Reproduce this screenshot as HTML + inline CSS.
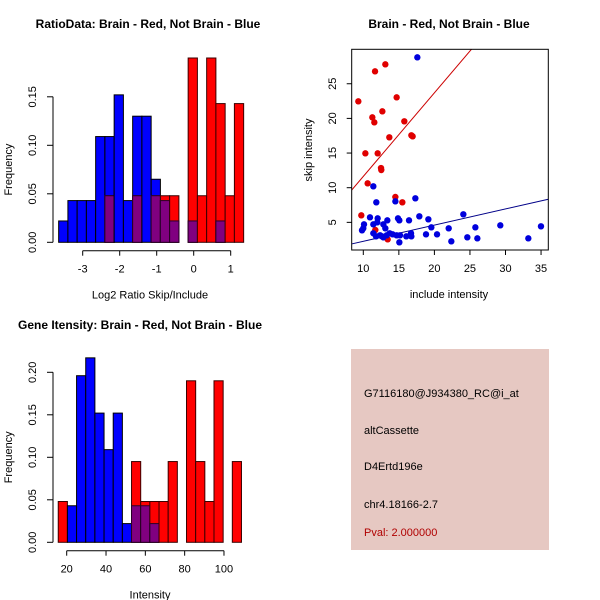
<!DOCTYPE html>
<html><head><meta charset="utf-8"><style>
html,body{margin:0;padding:0;background:#fff;}
svg{display:block;font-family:"Liberation Sans",sans-serif;}
</style></head><body>
<svg id="root" width="600" height="600" xmlns="http://www.w3.org/2000/svg">
<rect x="0" y="0" width="600" height="600" fill="#fff"/>
<text x="148" y="28" text-anchor="middle" font-size="12" font-weight="bold">RatioData: Brain - Red, Not Brain - Blue</text>
<text x="449" y="28" text-anchor="middle" font-size="12" font-weight="bold">Brain - Red, Not Brain - Blue</text>
<text x="140" y="329" text-anchor="middle" font-size="12" font-weight="bold">Gene Itensity: Brain - Red, Not Brain - Blue</text>
<g id="g1"></g>
<g id="g2"></g>
<g id="g3"></g>
<g>
<rect x="351" y="349" width="198" height="201" fill="#e6c8c2"/>
<text x="364" y="397" font-size="11">G7116180@J934380_RC@i_at</text>
<text x="364" y="434" font-size="11">altCassette</text>
<text x="364" y="470" font-size="11">D4Ertd196e</text>
<text x="364" y="508" font-size="11">chr4.18166-2.7</text>
<text x="364" y="536" font-size="11" fill="#b00000">Pval: 2.000000</text>
</g>
</svg>
<script>
// Ratio histogram data
const ratioStart = -3.65, ratioBinW = 0.25;
const ratioBlue = [0.022,0.043,0.043,0.043,0.109,0.109,0.152,0.043,0.130,0.130,0.065,0.043,0.022,0,0.022,0,0,0.022,0,0];
const ratioRed  = [0,0,0,0,0,0.048,0,0,0.048,0,0.048,0.048,0.048,0,0.19,0.048,0.19,0.143,0.048,0.143];
const ratioXTicks = [-3,-2,-1,0,1];
const ratioYTicks = ["0.00","0.05","0.10","0.15"];
// Intensity histogram data
const intStart = 15.7, intBinW = 4.66;
const intBlue = [0,0.043,0.196,0.217,0.152,0.109,0.152,0.022,0.043,0.043,0.022,0,0,0,0,0,0,0,0,0];
const intRed  = [0.048,0,0,0,0,0,0,0,0.095,0.048,0.048,0.048,0.095,0,0.19,0.095,0.048,0.19,0,0.095];
const intXTicks = [20,40,60,80,100];
const intYTicks = ["0.00","0.05","0.10","0.15","0.20"];
// Scatter data
const redX = [9.30,14.69,11.65,13.10,11.27,11.55,12.68,15.77,10.29,12.02,13.66,12.49,12.53,16.76,16.94,10.61,14.51,15.49,9.72,11.69,13.43];
const redY = [22.46,23.04,26.79,27.80,20.15,19.43,21.02,19.58,14.96,14.96,17.27,12.84,12.55,17.56,17.41,10.63,8.66,7.89,6.01,3.90,2.55];
const blueX = [17.60,11.41,11.83,17.32,14.51,10.94,12.02,13.38,14.88,15.07,16.43,17.88,19.15,24.07,25.76,29.27,34.99,9.82,10.10,10.00,11.41,12.82,13.10,13.71,14.69,15.16,16.05,16.71,16.76,18.82,20.37,22.01,19.57,11.41,11.79,12.35,12.63,13.29,14.13,15.07,22.38,24.63,26.04,33.21,11.97,12.82];
const blueY = [28.81,10.20,7.89,8.47,8.03,5.72,5.58,5.29,5.58,5.29,5.29,5.87,5.44,6.16,4.28,4.57,4.43,3.85,4.71,4.14,4.71,4.71,4.14,3.42,3.13,3.13,2.98,3.42,2.98,3.27,3.27,4.14,4.28,3.42,2.98,3.13,2.98,3.13,3.27,2.12,2.26,2.84,2.69,2.69,5.00,2.84];
const redFit = [-0.43, 1.206];
const blueFit = [-0.07, 0.2334];
const scXTicks = [10,15,20,25,30,35];
const scYTicks = [5,10,15,20,25];

const NS = "http://www.w3.org/2000/svg";
function mk(parent, tag, attrs, text){
  const e = document.createElementNS(NS, tag);
  for (const k in attrs) e.setAttribute(k, attrs[k]);
  if (text !== undefined) e.textContent = text;
  parent.appendChild(e); return e;
}

function hist(g, start, w, blue, red, xs, ys, yTicks, xTicks, xlab, yAxisX, xAxisY, xTickLo, xTickHi, yTickTop){
  const n = blue.length;
  for (let i = 0; i < n; i++) {
    const x0 = xs(start + i*w), x1 = xs(start + (i+1)*w);
    const b = blue[i], r = red[i], m = Math.min(b, r);
    if (b > 0) {
      const e = mk(g, "rect", {x:x0, y:ys(b), width:x1-x0, height:ys(0)-ys(b), fill:"#0000ff", stroke:"#000", "stroke-width":1});
      
      
    }
    if (r > 0) {
      const e = mk(g, "rect", {x:x0, y:ys(r), width:x1-x0, height:ys(0)-ys(r), fill:"#ff0000", stroke:"#3a0000", "stroke-width":1});
      
      
    }
    if (m > 0) {
      const e = mk(g, "rect", {x:x0, y:ys(m), width:x1-x0, height:ys(0)-ys(m), fill:"#800080", stroke:"#2a002a", "stroke-width":1});
      
      
    }
  }
  // y axis
  const ya = mk(g, "line", {x1:yAxisX, x2:yAxisX, y1:ys(0), y2:ys(yTickTop), stroke:"#000"});
  
  
  yTicks.forEach(t => {
    const y = ys(parseFloat(t));
    mk(g, "line", {x1:yAxisX-6, x2:yAxisX, y1:y, y2:y, stroke:"#000"});
    const tx = mk(g, "text", {x:0, y:0, "font-size":11, "text-anchor":"middle", transform:`translate(36,${y}) rotate(-90)`}, t);
    
    
  });
  const xa = mk(g, "line", {x1:xs(xTickLo), x2:xs(xTickHi), y1:xAxisY, y2:xAxisY, stroke:"#000"});
  
  
  xTicks.forEach(t => {
    const x = xs(t);
    mk(g, "line", {x1:x, x2:x, y1:xAxisY, y2:xAxisY+5, stroke:"#000"});
    const tx = mk(g, "text", {x:x, y:xAxisY+22, "font-size":11, "text-anchor":"middle"}, String(t));
    
    
  });
  const xl = mk(g, "text", {x:(xs(xTickLo)+xs(xTickHi))/2 + 0, y:xAxisY+48, "font-size":11, "text-anchor":"middle"}, xlab);
  
  
  const yl = mk(g, "text", {x:0, y:0, "font-size":11, "text-anchor":"middle", transform:`translate(12,${(ys(0)+ys(yTickTop))/2}) rotate(-90)`}, "Frequency");
  
  
}

// Panel 1
{
  const g = document.getElementById("g1");
  const xs = v => 82.7 + (v + 3) * 37;
  const ys = v => 242.3 - v * 970;
  hist(g, ratioStart, ratioBinW, ratioBlue, ratioRed, xs, ys, ratioYTicks, ratioXTicks, "Log2 Ratio Skip/Include", 53, 250.7, -3, 1, 0.15);
  g.lastChild.previousSibling.setAttribute("x", 150);
}
// Panel 3
{
  const g = document.getElementById("g3");
  const xs = v => 66.7 + (v - 20) * 1.966;
  const ys = v => 542.3 - v * 850;
  hist(g, intStart, intBinW, intBlue, intRed, xs, ys, intYTicks, intXTicks, "Intensity", 53, 550.7, 20, 100, 0.20);
  g.lastChild.previousSibling.setAttribute("x", 150);
}
// Panel 2 scatter
{
  const g = document.getElementById("g2");
  const L = 351.7, R = 548.3, T = 49.3, B = 250;
  const xs = v => 292.2 + v * 7.11;
  const ys = v => 257 - v * 6.93;
  const clip = mk(g, "clipPath", {id:"scclip"});
  mk(clip, "rect", {x:L, y:T, width:R-L, height:B-T});
  const xMin = (L - 292.2) / 7.11, xMax = (R - 292.2) / 7.11;
  const rl = mk(g, "line", {x1:xs(xMin), y1:ys(redFit[0]+redFit[1]*xMin), x2:xs(xMax), y2:ys(redFit[0]+redFit[1]*xMax), stroke:"#cc0000", "clip-path":"url(#scclip)"});
  
  
  const bl = mk(g, "line", {x1:xs(xMin), y1:ys(blueFit[0]+blueFit[1]*xMin), x2:xs(xMax), y2:ys(blueFit[0]+blueFit[1]*xMax), stroke:"#000088", "clip-path":"url(#scclip)"});
  
  
  redX.forEach((x, i) => {
    const c = mk(g, "circle", {cx:xs(x), cy:ys(redY[i]), r:3.2, fill:"#e00000"});
    
    
  });
  blueX.forEach((x, i) => {
    const c = mk(g, "circle", {cx:xs(x), cy:ys(blueY[i]), r:3.2, fill:"#0000dd"});
    
    
  });
  const box = mk(g, "rect", {x:L, y:T, width:R-L, height:B-T, fill:"none", stroke:"#000"});
  
  
  scXTicks.forEach(t => {
    const x = xs(t);
    mk(g, "line", {x1:x, x2:x, y1:B, y2:B+5, stroke:"#000"});
    const tx = mk(g, "text", {x:x, y:B+22, "font-size":11, "text-anchor":"middle"}, String(t));
    
    
  });
  scYTicks.forEach(t => {
    const y = ys(t);
    mk(g, "line", {x1:L-5, x2:L, y1:y, y2:y, stroke:"#000"});
    const tx = mk(g, "text", {x:0, y:0, "font-size":11, "text-anchor":"middle", transform:`translate(336,${y}) rotate(-90)`}, String(t));
    
    
  });
  const xl = mk(g, "text", {x:449, y:298, "font-size":11, "text-anchor":"middle"}, "include intensity");
  
  
  const yl = mk(g, "text", {x:0, y:0, "font-size":11, "text-anchor":"middle", transform:`translate(312,150) rotate(-90)`}, "skip intensity");
  
  
}
</script>
</body></html>
